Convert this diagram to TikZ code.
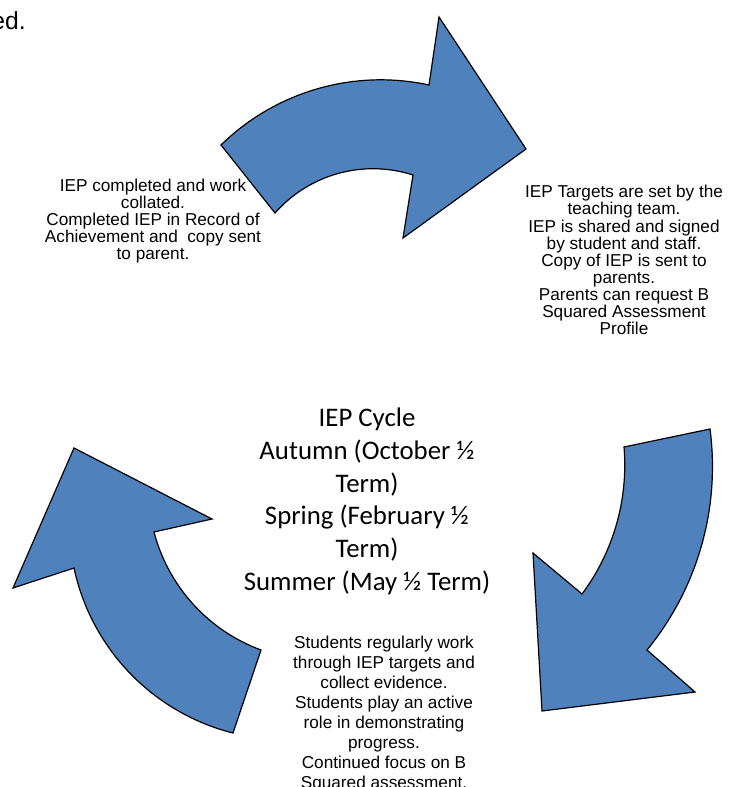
\documentclass[tikz,border=0pt]{standalone}
\usepackage{fontspec}
\setmainfont{Liberation Sans}
\newfontfamily\cyclefont{Carlito}
\usepackage{tikz}
\usetikzlibrary{positioning}
\definecolor{iepBlue}{RGB}{79,129,189}

\begin{document}
\begin{tikzpicture}[x=0.75pt, y=-0.75pt,
    cyclearrow/.style={draw=black, line width=0.9pt, fill=iepBlue, line join=miter},
    stagetext/.style={align=center, inner sep=0pt}]
    \useasboundingbox (0,0) rectangle (728,787);
    \clip (0,0) rectangle (728,787);

    % three curved arrows of the cycle
    \draw[cyclearrow] (221,145) .. controls (275.8,91.4) and (354,68.7) .. (429,85)
      -- (439,17) -- (526,149) -- (403,238) -- (413,175)
      .. controls (363.5,159.1) and (309.4,174) .. (275,213) -- cycle;
    \draw[cyclearrow] (624,447) -- (710,429)
      .. controls (720.4,508.2) and (697.6,588.2) .. (647,650)
      -- (695,692) -- (542,711) -- (533,553) -- (582,594)
      .. controls (613.5,551.8) and (628.4,499.5) .. (624,447) -- cycle;
    \draw[cyclearrow] (233,733) .. controls (152.9,712.8) and (91.3,648.8) .. (74,568)
      -- (13,588) -- (74,448) -- (212,519) -- (154,532)
      .. controls (168.3,586.5) and (208.2,630.5) .. (261,650) -- cycle;

    % texts
    \node[anchor=base east, inner sep=0pt, font=\fontsize{18.5}{20}\selectfont] (cut) at (26,30) {ed.};
    \node[stagetext, font=\fontsize{12.9}{12.6}\selectfont] (review) at (153,221)
      {IEP completed and work\\collated.\\Completed IEP in Record of\\Achievement and\ \ copy sent\\to parent.};
    \node[stagetext, font=\fontsize{12.9}{12.8}\selectfont] (targets) at (624,260)
      {IEP Targets are set by the\\teaching team.\\IEP is shared and signed\\by student and staff.\\Copy of IEP is sent to\\parents.\\Parents can request B\\Squared Assessment\\Profile};
    \node[stagetext, font=\fontsize{12.9}{15}\selectfont] (work) at (384,714)
      {Students regularly work\\through IEP targets and\\collect evidence.\\Students play an active\\role in demonstrating\\progress.\\Continued focus on B\\Squared assessment.};
    \node[stagetext, font=\cyclefont\fontsize{20.1}{24.5}\selectfont] (cycle) at (367,501.5)
      {IEP Cycle\\Autumn (October ½\\Term)\\Spring (February ½\\Term)\\Summer (May ½ Term)};
\end{tikzpicture}
\end{document}
